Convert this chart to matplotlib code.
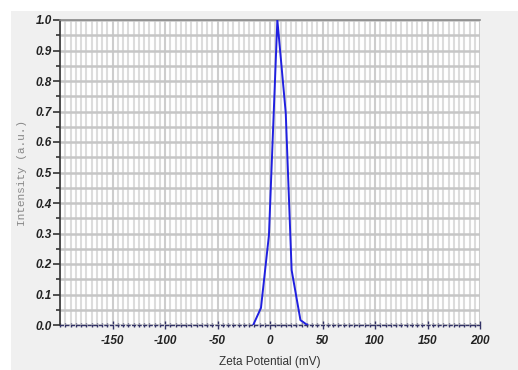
import matplotlib
matplotlib.use("Agg")
import matplotlib.pyplot as plt
from matplotlib.patches import Rectangle
from matplotlib.ticker import MultipleLocator
import numpy as np

# Data
zeta_mv = [-16, -8.6, -1, 7, 15, 20.6, 29, 35.5]
intensity = [0.0, 0.056, 0.295, 1.0, 0.695, 0.18, 0.016, 0.0]
x_ticks = [-150, -100, -50, 0, 50, 100, 150, 200]
y_ticks = [0.0, 0.1, 0.2, 0.3, 0.4, 0.5, 0.6, 0.7, 0.8, 0.9, 1.0]

fig = plt.figure(figsize=(5.18, 3.70), dpi=100)
fig.patch.set_facecolor("white")
bg = Rectangle((11/518, 0), 1 - 11/518, 1 - 11/370,
               transform=fig.transFigure, facecolor="#f0f0f0",
               edgecolor="none", zorder=-10)
fig.add_artist(bg)

ax = fig.add_axes([60/518, 1 - 325/370, 420/518, 305/370])
ax.set_zorder(1)
ax.set_facecolor("white")

ax.set_xlim(-200, 200)
ax.set_ylim(0, 1.0)

ax.xaxis.set_major_locator(MultipleLocator(50))
ax.xaxis.set_minor_locator(MultipleLocator(5))
ax.yaxis.set_major_locator(MultipleLocator(0.1))
ax.yaxis.set_minor_locator(MultipleLocator(0.05))

# Grid
ax.grid(which="minor", axis="x", color="#dcdcdc", linewidth=1.5)
ax.grid(which="major", axis="x", color="#cdcdcd", linewidth=1.5)
ax.grid(which="both", axis="y", color="#c6c6c6", linewidth=1.8)
ax.set_axisbelow(True)

ax.plot(zeta_mv, intensity, color="#2020e0", linewidth=1.4, zorder=3)

ax.set_xticks(x_ticks)
ax.set_yticks(y_ticks)
ax.set_xticklabels([str(v) for v in x_ticks])
ax.set_yticklabels([f"{v:.1f}" for v in y_ticks])

for lbl in ax.get_xticklabels() + ax.get_yticklabels():
    lbl.set_fontfamily("Liberation Sans")
    lbl.set_fontweight("bold")
    lbl.set_fontstyle("italic")
    lbl.set_fontsize(8.5)
    lbl.set_color("#222222")

ax.tick_params(axis="y", which="major", direction="out", length=5, width=1.2, color="#333333", pad=1)
ax.tick_params(axis="y", which="minor", direction="out", length=3, width=1.2, color="#333333")
ax.tick_params(axis="x", which="major", direction="inout", length=6, width=1.0, color="#333366", pad=4)
ax.tick_params(axis="x", which="minor", direction="inout", length=3, width=1.0, color="#333366")

ax.spines["right"].set_visible(False)
ax.spines["top"].set_color("#888888")
ax.spines["top"].set_linewidth(1.2)
ax.spines["left"].set_color("#333333")
ax.spines["left"].set_linewidth(1.2)
ax.spines["bottom"].set_color("#333366")
ax.spines["bottom"].set_linewidth(1.0)
ax.spines["bottom"].set_linestyle((0, (2, 2)))

ax.set_xlabel("Zeta Potential (mV)", fontfamily="Liberation Sans", fontsize=8.5,
              color="#333333", labelpad=7)
ax.set_ylabel("Intensity (a.u.)", fontfamily="Liberation Mono", fontsize=8,
              color="#888888", labelpad=6)

fig.savefig("out.png", dpi=100, facecolor=fig.get_facecolor())
